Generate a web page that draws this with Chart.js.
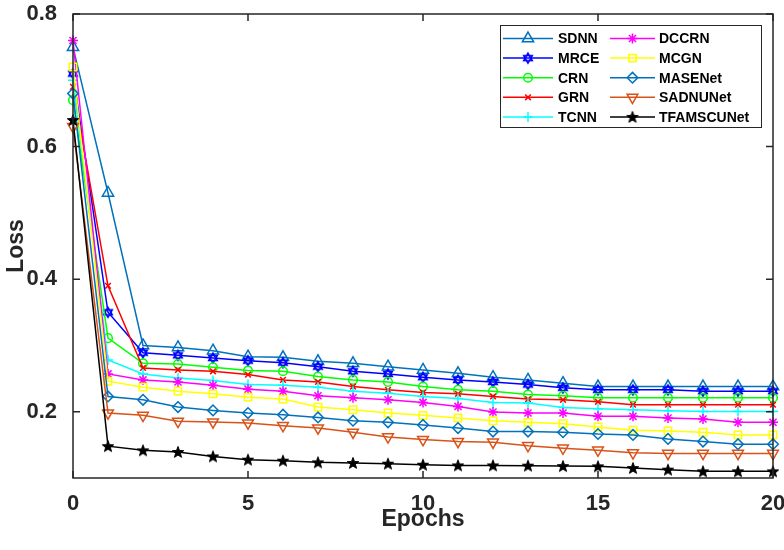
<!DOCTYPE html>
<html>
<head>
<meta charset="utf-8">
<script src="https://cdn.jsdelivr.net/npm/chart.js@4.4.1/dist/chart.umd.min.js"></script>
<style>
  html, body { margin: 0; padding: 0; background: #fff; }
</style>
</head>
<body>
<canvas id="lossChart" width="784" height="550"></canvas>
<script>
// values
const epochs = [0, 1, 2, 3, 4, 5, 6, 7, 8, 9, 10, 11, 12, 13, 14, 15, 16, 17, 18, 19, 20];
const xTicks = [0, 5, 10, 15, 20];
const yTicks = [0.2, 0.4, 0.6, 0.8];

const sdnn = [0.75, 0.53, 0.30, 0.297, 0.292, 0.283, 0.282, 0.276, 0.273, 0.268, 0.263, 0.258, 0.252, 0.248, 0.243, 0.238, 0.238, 0.238, 0.238, 0.238, 0.238];
const mrce = [0.71, 0.35, 0.289, 0.285, 0.281, 0.277, 0.274, 0.268, 0.261, 0.257, 0.252, 0.248, 0.245, 0.241, 0.236, 0.233, 0.233, 0.233, 0.231, 0.231, 0.231];
const crn = [0.67, 0.311, 0.273, 0.272, 0.267, 0.262, 0.261, 0.253, 0.248, 0.245, 0.238, 0.233, 0.231, 0.226, 0.224, 0.221, 0.221, 0.221, 0.221, 0.221, 0.221];
const grn = [0.69, 0.39, 0.266, 0.263, 0.261, 0.256, 0.248, 0.245, 0.238, 0.233, 0.229, 0.227, 0.223, 0.219, 0.218, 0.215, 0.2105, 0.2105, 0.2105, 0.2105, 0.2105];
const tcnn = [0.70, 0.278, 0.257, 0.251, 0.247, 0.241, 0.240, 0.237, 0.231, 0.228, 0.223, 0.220, 0.214, 0.213, 0.2065, 0.2045, 0.203, 0.2015, 0.2005, 0.2005, 0.2005];
const dccrn = [0.76, 0.257, 0.248, 0.245, 0.240, 0.234, 0.231, 0.224, 0.221, 0.218, 0.214, 0.208, 0.1995, 0.198, 0.198, 0.193, 0.193, 0.1905, 0.189, 0.184, 0.184];
const mcgn = [0.72, 0.246, 0.237, 0.231, 0.227, 0.222, 0.219, 0.207, 0.203, 0.198, 0.1945, 0.1905, 0.1864, 0.184, 0.182, 0.177, 0.172, 0.171, 0.169, 0.165, 0.165];
const masenet = [0.68, 0.223, 0.218, 0.207, 0.202, 0.198, 0.1955, 0.1914, 0.1864, 0.184, 0.180, 0.1754, 0.170, 0.170, 0.169, 0.1664, 0.165, 0.159, 0.155, 0.151, 0.151];
const sadnunet = [0.63, 0.198, 0.1945, 0.1855, 0.1845, 0.183, 0.179, 0.1754, 0.169, 0.162, 0.158, 0.155, 0.154, 0.1488, 0.145, 0.142, 0.138, 0.137, 0.137, 0.137, 0.137];
const tfamscunet = [0.64, 0.148, 0.1417, 0.1393, 0.1326, 0.1277, 0.1262, 0.1236, 0.1227, 0.1216, 0.120, 0.119, 0.119, 0.1186, 0.118, 0.1176, 0.115, 0.1126, 0.110, 0.110, 0.110];

const names = ['SDNN', 'MRCE', 'CRN', 'GRN', 'TCNN', 'DCCRN', 'MCGN', 'MASENet', 'SADNUNet', 'TFAMSCUNet'];
const series = [sdnn, mrce, crn, grn, tcnn, dccrn, mcgn, masenet, sadnunet, tfamscunet];
const colors = ['#0072BD', '#0000FF', '#00FF00', '#FF0000', '#00FFFF', '#FF00FF', '#FFFF00', '#0072BD', '#D95319', '#000000'];

const axisColor = '#262626';
const fontFamily = '"Liberation Sans", Arial, Helvetica, sans-serif';

// matlab-ish markers that chart.js doesn't have
function hexagram(color) {
  const c = document.createElement('canvas');
  c.width = c.height = 16;
  const g = c.getContext('2d');
  g.strokeStyle = color;
  g.lineWidth = 1.5;
  const r = 5;
  [-Math.PI / 2, Math.PI / 2].forEach(off => {
    g.beginPath();
    for (let k = 0; k < 3; k++) {
      const a = off + k * 2 * Math.PI / 3;
      if (k === 0) g.moveTo(8 + r * Math.cos(a), 8 + r * Math.sin(a));
      else g.lineTo(8 + r * Math.cos(a), 8 + r * Math.sin(a));
    }
    g.closePath();
    g.stroke();
  });
  return c;
}

function pentagram(color) {
  const c = document.createElement('canvas');
  c.width = c.height = 16;
  const g = c.getContext('2d');
  g.fillStyle = color;
  g.strokeStyle = color;
  g.lineWidth = 1;
  g.beginPath();
  for (let k = 0; k < 10; k++) {
    const r = k % 2 === 0 ? 6 : 2.5;
    const a = -Math.PI / 2 + k * Math.PI / 5;
    if (k === 0) g.moveTo(8 + r * Math.cos(a), 8.5 + r * Math.sin(a));
    else g.lineTo(8 + r * Math.cos(a), 8.5 + r * Math.sin(a));
  }
  g.closePath();
  g.fill();
  g.stroke();
  return c;
}

const markers = [
  { style: 'triangle', radius: 6.5, rotation: 0 },
  { style: hexagram('#0000FF'), radius: 5, rotation: 0 },
  { style: 'circle', radius: 4.3, rotation: 0 },
  { style: 'crossRot', radius: 4, rotation: 0 },
  { style: 'cross', radius: 5, rotation: 0 },
  { style: 'star', radius: 5, rotation: 0 },
  { style: 'rect', radius: 5.2, rotation: 0 },
  { style: 'rectRot', radius: 5.3, rotation: 0 },
  { style: 'triangle', radius: 6.2, rotation: 180 },
  { style: pentagram('#000000'), radius: 6, rotation: 0 }
];

const datasets = names.map((name, i) => ({
  label: name,
  data: epochs.map((e, j) => ({ x: e, y: series[i][j] })),
  borderColor: colors[i],
  backgroundColor: 'rgba(0,0,0,0)',
  borderWidth: 1.5,
  pointStyle: markers[i].style,
  pointRadius: markers[i].radius,
  pointRotation: markers[i].rotation,
  pointBorderColor: colors[i],
  pointBackgroundColor: 'rgba(0,0,0,0)',
  pointBorderWidth: 1.5,
  tension: 0,
  clip: false,
  order: names.length - i
}));

// box around the axes with inward ticks on all four sides
const axesBox = {
  id: 'axesBox',
  afterDatasetsDraw(chart) {
    const { ctx, chartArea: a, scales } = chart;
    ctx.save();
    ctx.strokeStyle = axisColor;
    ctx.lineWidth = 1.5;
    ctx.strokeRect(a.left, a.top, a.right - a.left, a.bottom - a.top);
    ctx.beginPath();
    const tl = 7;
    xTicks.forEach(v => {
      const px = scales.x.getPixelForValue(v);
      ctx.moveTo(px, a.bottom); ctx.lineTo(px, a.bottom - tl);
      ctx.moveTo(px, a.top); ctx.lineTo(px, a.top + tl);
    });
    yTicks.forEach(v => {
      const py = scales.y.getPixelForValue(v);
      ctx.moveTo(a.left, py); ctx.lineTo(a.left + tl, py);
      ctx.moveTo(a.right, py); ctx.lineTo(a.right - tl, py);
    });
    ctx.stroke();
    ctx.restore();
  }
};

// two-column legend, column-major like the matlab one
const boxLegend = {
  id: 'boxLegend',
  afterDraw(chart) {
    const ctx = chart.ctx;
    const bx = 500, by = 25, bw = 261, bh = 102;
    ctx.save();
    ctx.fillStyle = '#fff';
    ctx.fillRect(bx, by, bw, bh);
    ctx.strokeStyle = axisColor;
    ctx.lineWidth = 1;
    ctx.strokeRect(bx + 0.5, by + 0.5, bw, bh);
    ctx.font = 'bold 14px ' + fontFamily;
    ctx.textBaseline = 'middle';
    ctx.textAlign = 'left';
    const cols = [{ x0: 503, x1: 553, tx: 558 }, { x0: 610, x1: 655, tx: 659 }];
    names.forEach((name, i) => {
      const col = cols[Math.floor(i / 5)];
      const y = 38.5 + (i % 5) * 19.6;
      ctx.strokeStyle = colors[i];
      ctx.lineWidth = 1.5;
      ctx.beginPath();
      ctx.moveTo(col.x0, y);
      ctx.lineTo(col.x1, y);
      ctx.stroke();
      ctx.fillStyle = 'rgba(0,0,0,0)';
      Chart.helpers.drawPoint(ctx, {
        pointStyle: markers[i].style,
        radius: markers[i].radius,
        rotation: markers[i].rotation,
        borderWidth: 1.5
      }, (col.x0 + col.x1) / 2, y);
      ctx.fillStyle = '#000';
      ctx.fillText(name, col.tx, y + 1);
    });
    ctx.restore();
  }
};

new Chart(document.getElementById('lossChart'), {
  type: 'line',
  data: { datasets },
  options: {
    responsive: false,
    animation: false,
    layout: { padding: { left: 0, top: 14, right: 11, bottom: 0 } },
    plugins: { legend: { display: false }, tooltip: { enabled: false } },
    scales: {
      x: {
        type: 'linear',
        min: 0,
        max: 20,
        afterBuildTicks: s => { s.ticks = xTicks.map(v => ({ value: v })); },
        afterFit: s => { s.height = 72; s.paddingLeft = 0; s.paddingRight = 0; },
        grid: { display: false },
        border: { display: false },
        ticks: {
          color: axisColor,
          padding: 5,
          maxRotation: 0,
          autoSkip: false,
          font: { family: fontFamily, size: 22, weight: 'bold' },
          callback: v => String(v)
        },
        title: {
          display: true,
          text: 'Epochs',
          color: axisColor,
          padding: { top: 0, bottom: 17 },
          font: { family: fontFamily, size: 23, weight: 'bold' }
        }
      },
      y: {
        min: 0.1,
        max: 0.8,
        afterBuildTicks: s => { s.ticks = yTicks.map(v => ({ value: v })); },
        afterFit: s => { s.width = 73; s.paddingTop = 0; s.paddingBottom = 0; },
        grid: { display: false },
        border: { display: false },
        ticks: {
          color: axisColor,
          padding: 8,
          autoSkip: false,
          font: { family: fontFamily, size: 22, weight: 'bold' },
          callback: v => v.toFixed(1)
        },
        title: {
          display: true,
          text: 'Loss',
          color: axisColor,
          padding: { top: 3, bottom: 0 },
          font: { family: fontFamily, size: 23, weight: 'bold' }
        }
      }
    }
  },
  plugins: [axesBox, boxLegend]
});
</script>
</body>
</html>
